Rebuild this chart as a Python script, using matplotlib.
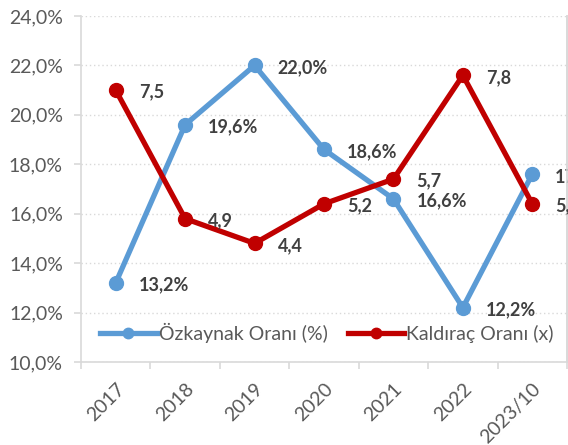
import matplotlib
matplotlib.use("Agg")
import matplotlib.pyplot as plt
from matplotlib.ticker import FixedLocator, FuncFormatter

categories = ["2017", "2018", "2019", "2020", "2021", "2022", "2023/10"]
ozkaynak = [13.2, 19.6, 22.0, 18.6, 16.6, 12.2, 17.6]
kaldirac = [7.5, 4.9, 4.4, 5.2, 5.7, 7.8, 5.2]
y_ticks = [10, 12, 14, 16, 18, 20, 22, 24]

plt.rcParams['font.family'] = ['Lato', 'DejaVu Sans']

BLUE = "#5B9BD5"
RED = "#C00000"
GRAY = "#595959"
LABEL = "#404040"
AXC = "#D9D9D9"

fig = plt.figure(figsize=(5.68, 4.45), dpi=100)
ax = fig.add_axes([81/568, 1-362/445, (567-81)/568, (362-16)/445])
ax2 = ax.twinx()

x = list(range(len(categories)))

ax.set_xlim(-0.5, len(categories) - 0.5)
ax.set_ylim(10, 24)
ax2.set_ylim(2, 9)

ax.set_yticks(y_ticks)
ax.yaxis.set_major_formatter(FuncFormatter(lambda v, p: f"{v:.1f}%".replace(".", ",")))
ax.grid(axis='y', color=AXC, linestyle=(0, (1, 2)), linewidth=1.0)
ax.set_axisbelow(True)

ax.xaxis.set_major_locator(FixedLocator([i - 0.5 for i in range(len(categories) + 1)]))
ax.xaxis.set_minor_locator(FixedLocator(x))
ax.set_xticklabels([], minor=False)
ax.set_xticklabels(categories, minor=True, rotation=45, ha='right', va='top',
                   rotation_mode='anchor')
ax.tick_params(axis='x', which='major', length=5, color=AXC, width=1.2)
ax.tick_params(axis='x', which='minor', length=0, pad=13, labelsize=14, labelcolor=GRAY)
ax.tick_params(axis='y', length=5, color=AXC, width=1.2, labelsize=14,
               labelcolor=GRAY, pad=8)

ax.spines['top'].set_visible(False)
ax2.spines['top'].set_visible(False)
for s in ['left', 'bottom', 'right']:
    ax.spines[s].set_color(AXC)
    ax.spines[s].set_linewidth(1.2)
ax2.spines['right'].set_color(AXC)
ax2.spines['right'].set_linewidth(1.2)
ax2.spines['left'].set_visible(False)
ax2.spines['bottom'].set_visible(False)
ax2.set_yticks([])

l1, = ax.plot(x, ozkaynak, color=BLUE, linewidth=3.8, marker='o', markersize=10,
              label="Özkaynak Oranı (%)", zorder=3, clip_on=False)
l2, = ax2.plot(x, kaldirac, color=RED, linewidth=3.8, marker='o', markersize=10,
               label="Kaldıraç Oranı (x)", zorder=3, clip_on=False)

for xi, v in zip(x, ozkaynak):
    ax.annotate(f"{v:.1f}%".replace(".", ","), (xi, v), xytext=(16.5, -1.5),
                textcoords='offset points', ha='left', va='center',
                fontsize=13, fontweight='bold', color=LABEL, annotation_clip=False)
for xi, v in zip(x, kaldirac):
    ax2.annotate(f"{v:.1f}".replace(".", ","), (xi, v), xytext=(16.5, -1.5),
                 textcoords='offset points', ha='left', va='center',
                 fontsize=13, fontweight='bold', color=LABEL, annotation_clip=False)

leg = ax2.legend(handles=[l1, l2], loc='center', bbox_to_anchor=(0.506, 0.084),
                 ncol=2, frameon=False, fontsize=14, handlelength=2.9,
                 handletextpad=0.1, columnspacing=1.05, borderaxespad=0,
                 markerscale=0.75)
for t in leg.get_texts():
    t.set_color(GRAY)

fig.savefig("out.png", dpi=100)
